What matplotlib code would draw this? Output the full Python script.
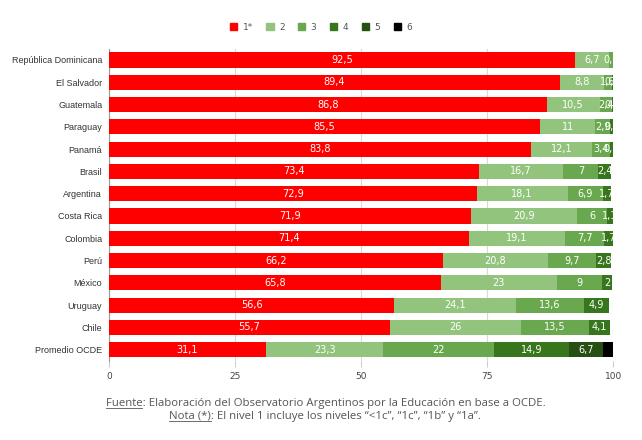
import matplotlib.pyplot as plt
import matplotlib.patches as mpatches
from matplotlib.lines import Line2D
import numpy as np

paises = ["República Dominicana", "El Salvador", "Guatemala", "Paraguay", "Panamá",
          "Brasil", "Argentina", "Costa Rica", "Colombia", "Perú", "México",
          "Uruguay", "Chile", "Promedio OCDE"]

nivel_1 = [92.5, 89.4, 86.8, 85.5, 83.8, 73.4, 72.9, 71.9, 71.4, 66.2, 65.8, 56.6, 55.7, 31.1]
nivel_2 = [6.7, 8.8, 10.5, 11, 12.1, 16.7, 18.1, 20.9, 19.1, 20.8, 23, 24.1, 26, 23.3]
nivel_3 = [0.8, 1.6, 2.4, 2.9, 3.4, 7, 6.9, 6, 7.7, 9.7, 9, 13.6, 13.5, 22]
nivel_4 = [0, 0.2, 0.3, 0.6, 0.7, 2.4, 1.7, 1.1, 1.7, 2.8, 2, 4.9, 4.1, 14.9]
nivel_5 = [0, 0, 0, 0, 0, 0, 0, 0, 0, 0, 0, 0, 0, 6.7]
nivel_6 = [0, 0, 0, 0, 0, 0, 0, 0, 0, 0, 0, 0, 0, 2.0]

niveles = ["1*", "2", "3", "4", "5", "6"]
colores = ["#ff0000", "#93c47d", "#6aa84f", "#38761d", "#274e13", "#000000"]


def fmt(v):
    if float(v).is_integer():
        return str(int(v))
    return f"{v:.1f}".replace(".", ",")


fig = plt.figure(figsize=(6.42, 4.40), dpi=100)
ax = fig.add_axes([0.170, 0.180, 0.785, 0.709])

y = np.arange(len(paises))
izq = np.zeros(len(paises))
series = [nivel_1, nivel_2, nivel_3, nivel_4, nivel_5, nivel_6]
for datos, color in zip(series, colores):
    datos = np.array(datos, dtype=float)
    ax.barh(y, datos, left=izq, height=0.68, color=color, zorder=3)
    for i, v in enumerate(datos):
        if v > 0 and color != "#000000":
            ax.text(izq[i] + v / 2, y[i], fmt(v), ha="center", va="center",
                    color="white", fontsize=7, family="DejaVu Sans", zorder=4)
    izq += datos

ax.set_ylim(len(paises) - 0.5, -0.5)
ax.set_xlim(0, 100)
ax.set_xticks([0, 25, 50, 75, 100])
ax.set_yticks(y)
ax.set_yticklabels(paises, fontsize=6.5, color="#333333", family="Liberation Sans")
ax.tick_params(axis="x", labelsize=6.5, colors="#444444", length=4, color="#cccccc", pad=4)
ax.tick_params(axis="y", length=0, pad=5)
ax.grid(axis="x", color="#d9d9d9", linewidth=0.8, zorder=0)
for s in ["top", "right", "bottom"]:
    ax.spines[s].set_visible(False)
ax.spines["left"].set_color("#999999")

handles = [mpatches.Patch(color=c, label=n) for n, c in zip(niveles, colores)]
fig.legend(handles=handles, loc="center", bbox_to_anchor=(0.5, 0.938), ncol=6,
           frameon=False, fontsize=6.5, handlelength=0.8, handleheight=0.8,
           columnspacing=1.5, handletextpad=0.6, labelcolor="#555555")

# notas al pie con subrayado
linea1 = "Fuente: Elaboración del Observatorio Argentinos por la Educación en base a OCDE."
linea2 = "Nota (*): El nivel 1 incluye los niveles “<1c”, “1c”, “1b” y “1a”."
notas = [(linea1, "Fuente", 1 - 403 / 440), (linea2, "Nota (*)", 1 - 416 / 440)]
fig.canvas.draw()
r = fig.canvas.get_renderer()
for texto, sub, yy in notas:
    t = fig.text(0.507, yy, texto, ha="center", va="center", fontsize=8.2,
                 color="#555555", family="Open Sans")
    bb = t.get_window_extent(r)
    t2 = fig.text(bb.x0 / fig.bbox.width, yy, sub, ha="left", va="center",
                  fontsize=8.2, family="Open Sans", alpha=0)
    bb2 = t2.get_window_extent(r)
    yl = (bb.y0 + 1) / fig.bbox.height
    fig.add_artist(Line2D([bb2.x0 / fig.bbox.width, bb2.x1 / fig.bbox.width], [yl, yl],
                          color="#555555", linewidth=0.6))

fig.savefig("out.png", dpi=100)
